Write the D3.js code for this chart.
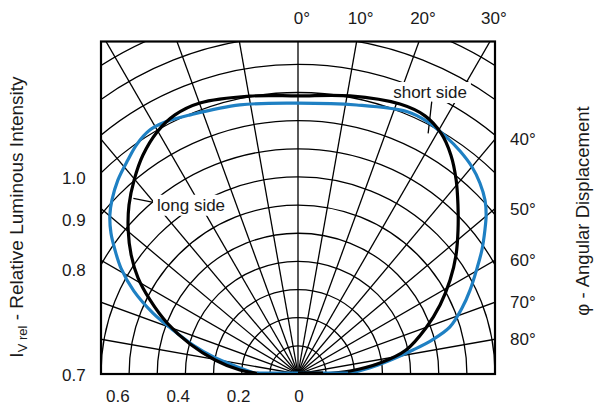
<!DOCTYPE html>
<html>
<head>
<meta charset="utf-8">
<script src="https://cdn.jsdelivr.net/npm/d3@7/dist/d3.min.js"></script>
<style>
  body { margin: 0; background: #fff; }
  svg text { font-family: "Liberation Sans", Arial, sans-serif; font-size: 17px; fill: #1a1a1a; }
</style>
</head>
<body>
<div id="chart"></div>
<script>
// angle in degrees from the 0° axis, value = relative luminous intensity
const blueAngles = [-90, -82.8, -78.5, -74.6, -70.6, -67.2, -63.2, -59.1, -55.9, -53.0, -49.8, -46.9, -42.9, -38.5, -35.0, -31.2, -27.8, -22.6, -12.2, 0,
  12.3, 22.5, 27.3, 31.7, 36.0, 40.0, 43.6, 47.1, 49.8, 52.4, 56.0, 59.4, 64.0, 68.1, 72.8, 75.8, 78.2, 81.0, 84.4, 90];
const blueValues = [0.146, 0.226, 0.308, 0.387, 0.471, 0.559, 0.653, 0.733, 0.785, 0.832, 0.875, 0.905, 0.940, 0.971, 0.997, 1.014, 1.012, 0.997, 0.978, 0.962,
  0.978, 1.009, 1.007, 0.994, 0.979, 0.961, 0.937, 0.907, 0.875, 0.838, 0.788, 0.739, 0.680, 0.628, 0.565, 0.491, 0.417, 0.342, 0.268, 0.178];

const blackAngles = [-90, -86.1, -80.4, -74.5, -68.7, -63.4, -59.0, -54.5, -49.7, -45, -40.2, -35.3, -30.2, -25.4, -19.9, -9.8, 0,
  10.6, 20.7, 26.2, 30.7, 34.9, 39.2, 43.4, 48.0, 53.0, 58.3, 64.1, 70.2, 77.5, 82.4, 86.7, 90];
const blackValues = [0.128, 0.207, 0.299, 0.398, 0.499, 0.588, 0.663, 0.728, 0.791, 0.849, 0.902, 0.953, 0.995, 1.019, 1.024, 1.002, 0.988,
  1.005, 1.025, 1.022, 0.995, 0.949, 0.889, 0.827, 0.765, 0.703, 0.635, 0.561, 0.483, 0.393, 0.294, 0.185, 0.089];

const ringValues = [0.1, 0.2, 0.3, 0.4, 0.5, 0.6, 0.7, 0.8, 0.9, 1.0, 1.1, 1.2, 1.3, 1.4];
const spokeAngles = [-90, -80, -70, -60, -50, -40, -30, -20, -10, 0, 10, 20, 30, 40, 50, 60, 70, 80, 90];
const topAngleTicks = [0, 10, 20, 30];
const sideAngleTicks = [40, 50, 60, 70, 80];
const intensityTicks = [1.0, 0.9, 0.8, 0.7];
const bottomTicks = [0.6, 0.4, 0.2, 0];

// annotation anchors in (angle, value)
const labels = [
  { text: "short side", at: [25.1, 1.106], leader: [[26.15, 1.078], [28.4, 0.972]] },
  { text: "long side", at: [-32.3, 0.711], leader: [[-40.3, 0.801], [-43.15, 0.855]] }
];

var width = 594;
var height = 410;
var ox = 298, oy = 374;
var frame = { left: 101, right: 495, top: 41.5, bottom: 374 };

var r = d3.scaleLinear().domain([0, 1]).range([0, 281.5]);
var xLabel = d3.scaleLinear().domain([0, 1]).range([ox + 1, ox + 1 - 302]);

function polar(a, v) {
  const t = a * Math.PI / 180;
  return [ox + r(v) * Math.sin(t), oy - r(v) * Math.cos(t)];
}

var svg = d3.select("#chart").append("svg")
  .attr("width", width)
  .attr("height", height);

svg.append("clipPath").attr("id", "plot-clip")
  .append("rect")
  .attr("x", frame.left).attr("y", frame.top)
  .attr("width", frame.right - frame.left)
  .attr("height", frame.bottom - frame.top);

var plot = svg.append("g").attr("clip-path", "url(#plot-clip)");

// rings
plot.selectAll(".ring")
  .data(ringValues)
  .enter().append("circle")
  .attr("class", "ring")
  .attr("cx", ox).attr("cy", oy)
  .attr("r", d => r(d))
  .attr("fill", "none")
  .attr("stroke", "#000")
  .attr("stroke-width", 1.3);

// spokes
plot.selectAll(".spoke")
  .data(spokeAngles)
  .enter().append("line")
  .attr("class", "spoke")
  .attr("x1", ox).attr("y1", oy)
  .attr("x2", d => polar(d, 2)[0])
  .attr("y2", d => polar(d, 2)[1])
  .attr("stroke", "#000")
  .attr("stroke-width", 1.3);

// annotation boxes hide the grid behind the text
labels.forEach(function(l) {
  const p = polar(l.at[0], l.at[1]);
  const t = plot.append("text")
    .attr("x", p[0]).attr("y", p[1])
    .attr("dy", "0.35em")
    .attr("text-anchor", "middle")
    .text(l.text);
  const bb = t.node().getBBox();
  plot.insert("rect", "text")
    .attr("x", bb.x - 4).attr("y", bb.y - 1)
    .attr("width", bb.width + 8).attr("height", bb.height + 2)
    .attr("fill", "#fff");
  plot.append("line")
    .attr("x1", polar(l.leader[0][0], l.leader[0][1])[0])
    .attr("y1", polar(l.leader[0][0], l.leader[0][1])[1])
    .attr("x2", polar(l.leader[1][0], l.leader[1][1])[0])
    .attr("y2", polar(l.leader[1][0], l.leader[1][1])[1])
    .attr("stroke", "#000")
    .attr("stroke-width", 1.3);
});

var radial = d3.lineRadial()
  .angle(d => d[0] * Math.PI / 180)
  .radius(d => r(d[1]))
  .curve(d3.curveCatmullRom.alpha(0.5));

var curves = plot.append("g").attr("transform", "translate(" + ox + "," + oy + ")");

function drawSeries(angles, values, color, fromOrigin) {
  const pts = angles.map((a, i) => [a, values[i]]);
  curves.append("path")
    .attr("d", radial(pts))
    .attr("fill", "none")
    .attr("stroke", color)
    .attr("stroke-width", 3.2)
    .attr("stroke-linejoin", "round");
  const end = polar(90, values[values.length - 1]);
  const start = fromOrigin ? [ox, oy] : polar(-90, values[0]);
  plot.append("line")
    .attr("x1", start[0]).attr("y1", oy - 1)
    .attr("x2", end[0]).attr("y2", oy - 1)
    .attr("stroke", color)
    .attr("stroke-width", 3.2);
}

drawSeries(blueAngles, blueValues, "#1f80c3", false);
drawSeries(blackAngles, blackValues, "#000", true);

// frame
svg.append("rect")
  .attr("x", frame.left).attr("y", frame.top)
  .attr("width", frame.right - frame.left)
  .attr("height", frame.bottom - frame.top)
  .attr("fill", "none")
  .attr("stroke", "#000")
  .attr("stroke-width", 2.2);

// top angle labels
svg.selectAll(".top-label")
  .data(topAngleTicks)
  .enter().append("text")
  .attr("class", "top-label")
  .attr("x", d => ox + (oy - frame.top) * Math.tan(d * Math.PI / 180) + 4)
  .attr("y", 18.5)
  .attr("dy", "0.35em")
  .attr("text-anchor", "middle")
  .text(d => d + "°");

// right angle labels
svg.selectAll(".side-label")
  .data(sideAngleTicks)
  .enter().append("text")
  .attr("class", "side-label")
  .attr("x", 510)
  .attr("y", d => oy - (frame.right - ox) / Math.tan(d * Math.PI / 180))
  .attr("dy", "0.35em")
  .text(d => d + "°");

// left intensity labels, where the ring meets the left edge
svg.selectAll(".int-label")
  .data(intensityTicks)
  .enter().append("text")
  .attr("class", "int-label")
  .attr("x", 62)
  .attr("y", d => {
    const dx = ox - frame.left;
    const R = r(d);
    return oy - Math.sqrt(Math.max(R * R - dx * dx, 0)) + 5;
  })
  .attr("dy", "0.35em")
  .text(d => d.toFixed(1));

// bottom intensity labels
svg.selectAll(".bottom-label")
  .data(bottomTicks)
  .enter().append("text")
  .attr("class", "bottom-label")
  .attr("x", d => xLabel(d))
  .attr("y", 396)
  .attr("dy", "0.35em")
  .attr("text-anchor", "middle")
  .text(d => d === 0 ? "0" : d.toFixed(1));

// axis titles
var yTitle = svg.append("text")
  .attr("transform", "translate(23,217) rotate(-90)")
  .attr("text-anchor", "middle")
  .style("font-size", "19px");
yTitle.append("tspan").text("I");
yTitle.append("tspan").attr("dy", 4).style("font-size", "13px").text("V rel");
yTitle.append("tspan").attr("dy", -4).text(" - Relative Luminous Intensity");

svg.append("text")
  .attr("transform", "translate(589,211) rotate(-90)")
  .attr("text-anchor", "middle")
  .style("font-size", "18.5px")
  .text("φ - Angular Displacement");
</script>
</body>
</html>
